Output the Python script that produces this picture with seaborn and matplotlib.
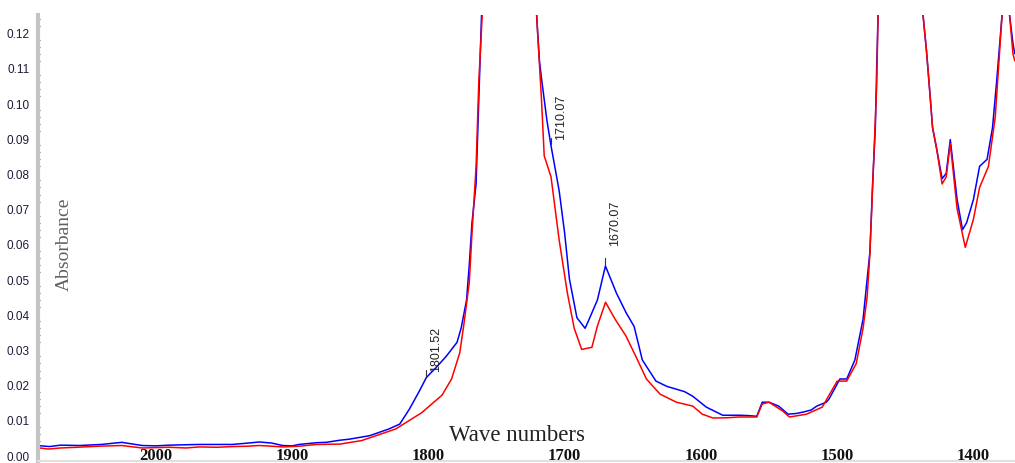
import numpy as np
import pandas as pd
import matplotlib
matplotlib.use("Agg")
import matplotlib.pyplot as plt
from matplotlib.ticker import MultipleLocator, FormatStrFormatter
import seaborn as sns

# ---- spectra (wavenumber in cm-1, absorbance) ----
blue_wn = [2087, 2078, 2070, 2056, 2040, 2025, 2010, 2000, 1990, 1980, 1968, 1955, 1944,
           1935, 1924, 1915, 1907, 1900, 1895, 1882, 1875, 1865,
           1858, 1843, 1829, 1821, 1814, 1807, 1801.52, 1794, 1787, 1779, 1776, 1772, 1770,
           1768, 1765, 1763, 1761, 1750, 1740, 1730, 1722,
           1720.6, 1718.5, 1717, 1713, 1710.07, 1704, 1700, 1696.5, 1691, 1685, 1682, 1676,
           1670.07, 1662, 1655, 1649, 1643, 1633, 1625, 1618, 1612, 1606, 1596, 1584, 1572,
           1565, 1559, 1555, 1550, 1543, 1536, 1530, 1525, 1519, 1515, 1508, 1506, 1498,
           1493, 1487, 1481, 1476, 1474,
           1472, 1471, 1470, 1465, 1455, 1445, 1437, 1434.5, 1432, 1430, 1427, 1423, 1420,
           1417, 1412, 1408, 1405, 1400, 1395.5, 1390, 1386, 1383, 1379, 1376, 1373.5,
           1371, 1369.7]
blue_abs = [0.0027, 0.0024, 0.0028, 0.0027, 0.0030, 0.0036, 0.0027, 0.0026, 0.0028, 0.0029,
            0.0030, 0.0030, 0.0030, 0.0033, 0.0037, 0.0034, 0.0027, 0.0026, 0.0030, 0.0035,
            0.0036, 0.0042,
            0.0045, 0.0055, 0.0074, 0.0088, 0.0130, 0.0179, 0.0220, 0.0250, 0.0280, 0.0320,
            0.0360, 0.0440, 0.0540, 0.0660, 0.0770, 0.1010, 0.1250, 0.2400, 0.3200, 0.2500,
            0.1500,
            0.1250, 0.1120, 0.1070, 0.0950, 0.0880, 0.0750, 0.0630, 0.0500, 0.0390, 0.0360,
            0.0386, 0.0440,
            0.0537, 0.0460, 0.0405, 0.0365, 0.0270, 0.0210, 0.0195, 0.0187, 0.0180, 0.0167,
            0.0136, 0.0113, 0.0113, 0.0112, 0.0110, 0.0150,
            0.0150, 0.0139, 0.0116, 0.0118, 0.0122, 0.0128, 0.0139, 0.0150, 0.0159, 0.0216,
            0.0216, 0.0270, 0.0386, 0.0576, 0.0770,
            0.0930, 0.1100, 0.1250, 0.2000, 0.3000, 0.2000, 0.1250, 0.1150, 0.1030, 0.0930,
            0.0870, 0.0785, 0.0800,
            0.0896, 0.0726, 0.0640, 0.0660, 0.0726, 0.0820, 0.0840, 0.0930, 0.1060, 0.1250,
            0.1350, 0.1250,
            0.1170, 0.1140]

red_wn = [2087, 2079, 2070, 2058, 2042, 2025, 2010, 2000, 1990, 1978, 1968, 1955, 1944,
          1933, 1924, 1915, 1907, 1895, 1882,
          1865, 1849, 1824, 1805, 1790, 1783, 1777, 1774, 1770, 1768, 1765, 1763, 1760.5,
          1750, 1740, 1730, 1722,
          1721, 1720, 1717, 1715, 1710, 1704, 1698, 1693, 1687.5, 1680, 1676, 1670, 1663,
          1655, 1647.5, 1640, 1630, 1618, 1606, 1599, 1591, 1580, 1572, 1559, 1555, 1550,
          1540, 1535, 1522.5, 1511, 1500, 1493, 1486, 1481, 1478, 1476, 1474, 1471, 1470,
          1465, 1455, 1445, 1437, 1434.5, 1432, 1430, 1427, 1423, 1420, 1417, 1412, 1406,
          1400, 1395.5, 1389, 1384, 1379, 1376, 1373.5, 1371, 1369.7]
red_abs = [0.0021, 0.0017, 0.0020, 0.0022, 0.0025, 0.0027, 0.0020, 0.0021, 0.0022, 0.0020,
           0.0023, 0.0022, 0.0024, 0.0025, 0.0027, 0.0025, 0.0023, 0.0025, 0.0030,
           0.0031, 0.0041, 0.0074, 0.0120, 0.0170, 0.0216, 0.0290, 0.0370, 0.0490, 0.0630,
           0.0820, 0.1060, 0.1250,
           0.2300, 0.3100, 0.2400, 0.1500,
           0.1300, 0.1210, 0.1010, 0.0850, 0.0790, 0.0610, 0.0460, 0.0360, 0.0300, 0.0306,
           0.0366, 0.0434, 0.0386,
           0.0338, 0.0278, 0.0216, 0.0173, 0.0150, 0.0139, 0.0116, 0.0105, 0.0106, 0.0108,
           0.0108, 0.0145, 0.0150,
           0.0125, 0.0108, 0.0116, 0.0136, 0.0210, 0.0210, 0.0260, 0.0360, 0.0450, 0.0570,
           0.0760, 0.1050, 0.1250,
           0.2000, 0.3000, 0.2000, 0.1250, 0.1150, 0.1030, 0.0930, 0.0870, 0.0770, 0.0790,
           0.0885, 0.0700, 0.0590,
           0.0670, 0.0760, 0.0820, 0.0960, 0.1250, 0.1350, 0.1250, 0.1140, 0.1120]

# labelled band positions (cm-1) and their label lift in points
peak_marks = [1801.52, 1710.07, 1670.07]
peak_lift = [5.0, 4.5, 15.0]

y_ticks = [0.00, 0.01, 0.02, 0.03, 0.04, 0.05, 0.06, 0.07, 0.08, 0.09, 0.10, 0.11, 0.12]
x_ticks = [2000, 1900, 1800, 1700, 1600, 1500, 1400]

sns.set_style("white")
plt.rcParams["font.family"] = ["Liberation Sans", "DejaVu Sans"]

df = pd.concat([
    pd.DataFrame({"wn": blue_wn, "A": blue_abs, "sample": "blue"}),
    pd.DataFrame({"wn": red_wn, "A": red_abs, "sample": "red"}),
], ignore_index=True)

fig = plt.figure(figsize=(10.15, 4.64), dpi=100)
ax = fig.add_axes([38 / 1015, 2 / 464, 977 / 1015, 446 / 464])

sns.lineplot(data=df, x="wn", y="A", hue="sample",
             palette={"blue": "#0000ff", "red": "#ff0000"},
             estimator=None, sort=True, linewidth=1.1, legend=False, ax=ax)

ax.set_xlim(2086.5, 1369.5)
ax.set_ylim(-0.0017, 0.125)

# peak labels with small pick marks
for m, lift in zip(peak_marks, peak_lift):
    v = float(np.interp(m, blue_wn[::-1], blue_abs[::-1]))
    ax.plot([m, m], [v + 0.0004, v + 0.0022], color="#333333", lw=0.8)
    ax.annotate(f"{m:.2f}", xy=(m, v), xytext=(7, lift), textcoords="offset points",
                rotation=90, ha="center", va="bottom", fontsize=9, color="#222222",
                family=["Liberation Sans", "DejaVu Sans"])

# axes furniture
ax.set_xlabel("")
ax.set_ylabel("")
ax.set_yticks(y_ticks)
ax.yaxis.set_major_formatter(FormatStrFormatter("%.2f"))
ax.yaxis.set_minor_locator(MultipleLocator(0.002))
ax.tick_params(axis="y", which="major", direction="out", length=4, width=0.9,
               color="#333333", labelsize=8.5, labelcolor="#1c1c3a", pad=2)
ax.tick_params(axis="y", which="minor", direction="inout", length=2.5, width=0.8,
               color="#555555", left=True)
ax.set_xticks(x_ticks)
ax.set_xticklabels([str(t) for t in x_ticks], fontweight="bold",
                   family=["Liberation Serif", "DejaVu Serif"], fontsize=12)
ax.tick_params(axis="x", length=0, pad=-10, labelcolor="#111111")

for side in ("top", "right"):
    ax.spines[side].set_visible(False)
ax.spines["left"].set_color("#c4c4c4")
ax.spines["left"].set_linewidth(3.0)
ax.spines["bottom"].set_color("#e0e0e0")
ax.spines["bottom"].set_linewidth(1.5)

ax.text(0.0265, 0.487, "Absorbance", transform=ax.transAxes, rotation=90,
        ha="center", va="center", fontsize=14, color="#606060",
        family=["Liberation Serif", "DejaVu Serif"])
ax.text(0.490, 0.046, "Wave numbers", transform=ax.transAxes,
        ha="center", va="baseline", fontsize=16.5, color="#222222",
        family=["Liberation Serif", "DejaVu Serif"])

fig.savefig("out.png", dpi=100)
